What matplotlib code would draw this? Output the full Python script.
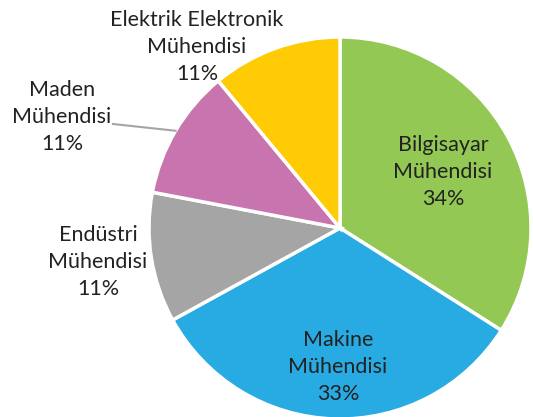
import numpy as np
import matplotlib.pyplot as plt

# Data
labels = ["Bilgisayar\nMühendisi", "Makine\nMühendisi", "Endüstri\nMühendisi",
          "Maden\nMühendisi", "Elektrik Elektronik\nMühendisi"]
shares = [34, 33, 11, 11, 11]
colors = ["#92c853", "#28abe2", "#a5a5a5", "#c874ae", "#ffcb05"]

W, H = 533, 417
cx, cy, R = 340, H - 228, 191

fig = plt.figure(figsize=(W / 100, H / 100), dpi=100)
ax = fig.add_axes([0, 0, 1, 1])

wedges, _ = ax.pie(shares, colors=colors, startangle=90, counterclock=False,
                   center=(cx, cy), radius=R, frame=True,
                   wedgeprops=dict(edgecolor="white", linewidth=2.5))
ax.set_xlim(0, W)
ax.set_ylim(0, H)
ax.set_aspect("equal")
ax.axis("off")

# label centres (pixel coordinates, y from top)
label_pos = [(443, 172), (338, 367), (98, 262), (62, 117), (197, 47)]
for lab, val, (x, y) in zip(labels, shares, label_pos):
    ax.text(x, H - y, f"{lab}\n{val}%", ha="center", va="center",
            fontsize=15.5, family="Lato", color="#222222", linespacing=1.42)

# leader line for Maden slice
w = wedges[3]
mid = np.deg2rad((w.theta1 + w.theta2) / 2)
ex, ey = cx + R * np.cos(mid), cy + R * np.sin(mid)
ax.plot([113, ex], [H - 124, ey], color="#a5a5a5", linewidth=1.5)

fig.savefig("out.png", dpi=100)
